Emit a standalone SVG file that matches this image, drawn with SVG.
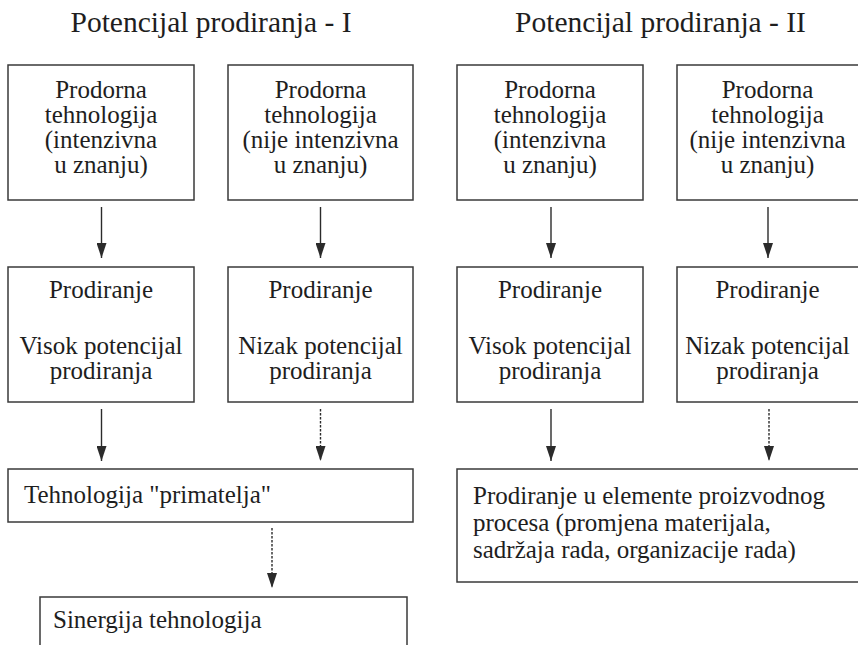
<svg xmlns="http://www.w3.org/2000/svg" width="858" height="645" viewBox="0 0 858 645" font-family="'Liberation Serif', 'Times New Roman', serif">
  <defs>
    <marker id="head" viewBox="0 0 15 10" refX="15" refY="5" markerWidth="15" markerHeight="10" markerUnits="userSpaceOnUse" orient="auto">
      <path d="M0,0 L15,5 L0,10 Z" fill="#2b2b2b"/>
    </marker>
    <style>
      text { font-family: "Liberation Serif", "Times New Roman", serif; fill: #1e1e1e; }
      .box { fill: #fff; stroke: #3a3a3a; stroke-width: 1.5; }
      .lbl { font-size: 25px; }
      .mid { text-anchor: middle; }
      .title { font-size: 29.5px; text-anchor: middle; }
      .solid { stroke: #2b2b2b; stroke-width: 1.4; fill: none; marker-end: url(#head); }
      .dash { stroke: #2b2b2b; stroke-width: 1.4; fill: none; stroke-dasharray: 2.5 1.5; marker-end: url(#head); }
    </style>
  </defs>
  <rect width="858" height="645" fill="#fff"/>

  <!-- headings -->
  <g id="title-1"><text class="title" x="211" y="32">Potencijal prodiranja - I</text></g>
  <g id="title-2"><text class="title" x="660.5" y="32">Potencijal prodiranja - II</text></g>

  <!-- top row: breakthrough technologies -->
  <g id="tech-1a">
    <rect class="box" x="8" y="65" width="186" height="135"/>
    <text class="lbl mid" x="101" y="98">Prodorna</text>
    <text class="lbl mid" x="101" y="123">tehnologija</text>
    <text class="lbl mid" x="101" y="148">(intenzivna</text>
    <text class="lbl mid" x="101" y="173">u znanju)</text>
  </g>
  <g id="tech-1b">
    <rect class="box" x="228" y="65" width="185" height="135"/>
    <text class="lbl mid" x="320.5" y="98">Prodorna</text>
    <text class="lbl mid" x="320.5" y="123">tehnologija</text>
    <text class="lbl mid" x="320.5" y="148">(nije intenzivna</text>
    <text class="lbl mid" x="320.5" y="173">u znanju)</text>
  </g>
  <g id="tech-2a">
    <rect class="box" x="457" y="65" width="186" height="135"/>
    <text class="lbl mid" x="550" y="98">Prodorna</text>
    <text class="lbl mid" x="550" y="123">tehnologija</text>
    <text class="lbl mid" x="550" y="148">(intenzivna</text>
    <text class="lbl mid" x="550" y="173">u znanju)</text>
  </g>
  <g id="tech-2b">
    <rect class="box" x="677" y="65" width="185" height="135"/>
    <text class="lbl mid" x="767.5" y="98">Prodorna</text>
    <text class="lbl mid" x="767.5" y="123">tehnologija</text>
    <text class="lbl mid" x="767.5" y="148">(nije intenzivna</text>
    <text class="lbl mid" x="767.5" y="173">u znanju)</text>
  </g>

  <!-- middle row: penetration potential -->
  <g id="pen-1a">
    <rect class="box" x="8" y="267" width="186" height="135"/>
    <text class="lbl mid" x="101" y="298">Prodiranje</text>
    <text class="lbl mid" x="101" y="354">Visok potencijal</text>
    <text class="lbl mid" x="101" y="379">prodiranja</text>
  </g>
  <g id="pen-1b">
    <rect class="box" x="228" y="267" width="185" height="135"/>
    <text class="lbl mid" x="320.5" y="298">Prodiranje</text>
    <text class="lbl mid" x="320.5" y="354">Nizak potencijal</text>
    <text class="lbl mid" x="320.5" y="379">prodiranja</text>
  </g>
  <g id="pen-2a">
    <rect class="box" x="457" y="267" width="186" height="135"/>
    <text class="lbl mid" x="550" y="298">Prodiranje</text>
    <text class="lbl mid" x="550" y="354">Visok potencijal</text>
    <text class="lbl mid" x="550" y="379">prodiranja</text>
  </g>
  <g id="pen-2b">
    <rect class="box" x="677" y="267" width="185" height="135"/>
    <text class="lbl mid" x="767.5" y="298">Prodiranje</text>
    <text class="lbl mid" x="767.5" y="354">Nizak potencijal</text>
    <text class="lbl mid" x="767.5" y="379">prodiranja</text>
  </g>

  <!-- lower row -->
  <g id="recipient">
    <rect class="box" x="8" y="469" width="405" height="53"/>
    <text class="lbl" x="24" y="503">Tehnologija "primatelja"</text>
  </g>
  <g id="process">
    <rect class="box" x="457" y="469" width="405" height="113"/>
    <text class="lbl" x="473" y="504">Prodiranje u elemente proizvodnog</text>
    <text class="lbl" x="473" y="531">procesa (promjena materijala,</text>
    <text class="lbl" x="473" y="558">sadržaja rada, organizacije rada)</text>
  </g>
  <g id="synergy">
    <rect class="box" x="40" y="597" width="367" height="60"/>
    <text class="lbl" x="53" y="628">Sinergija tehnologija</text>
  </g>

  <!-- connectors -->
  <g id="connectors">
    <line class="solid" x1="101.5" y1="207" x2="101.5" y2="258"/>
    <line class="solid" x1="320.5" y1="207" x2="320.5" y2="258"/>
    <line class="solid" x1="551" y1="207" x2="551" y2="258"/>
    <line class="solid" x1="768" y1="207" x2="768" y2="258"/>

    <line class="solid" x1="101.5" y1="409" x2="101.5" y2="461"/>
    <line class="dash" x1="320.5" y1="409" x2="320.5" y2="461"/>
    <line class="solid" x1="551" y1="409" x2="551" y2="461"/>
    <line class="dash" x1="769" y1="409" x2="769" y2="461"/>

    <line class="dash" x1="272" y1="528" x2="272" y2="588"/>
  </g>
</svg>
